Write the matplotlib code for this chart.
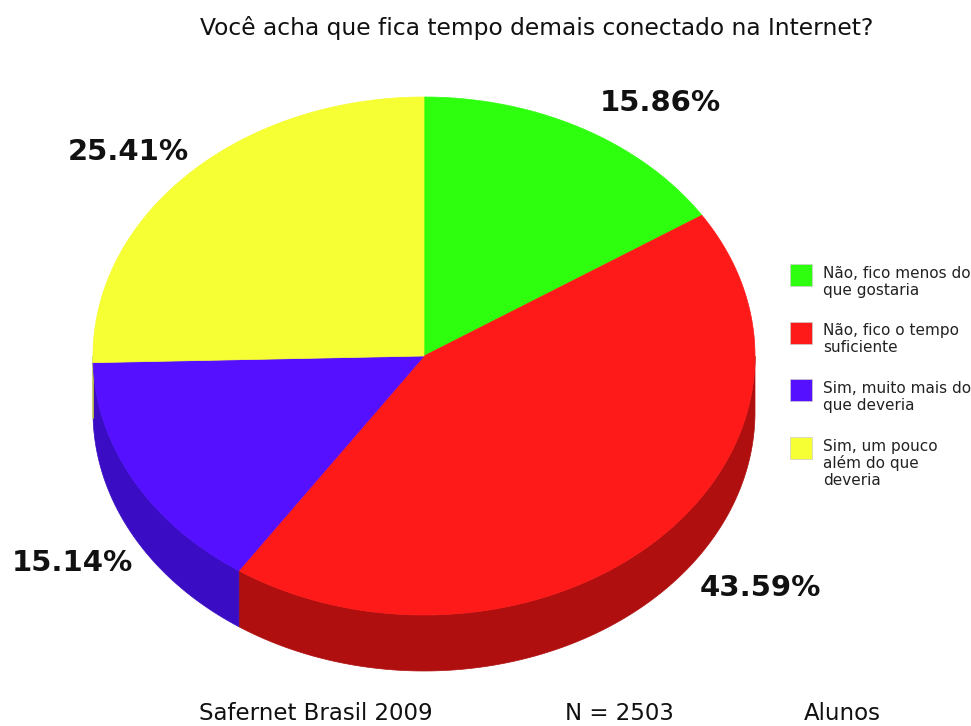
import numpy as np
import matplotlib
matplotlib.use("Agg")
import matplotlib.pyplot as plt
from matplotlib.patches import Polygon, Rectangle

# ---- data ----
categories = ["Não, fico menos do\nque gostaria",
              "Não, fico o tempo\nsuficiente",
              "Sim, muito mais do\nque deveria",
              "Sim, um pouco\nalém do que\ndeveria"]
values = [15.86, 43.59, 15.14, 25.41]
labels = ["15.86%", "43.59%", "15.14%", "25.41%"]
title = "Você acha que fica tempo demais conectado na Internet?"
footer = ["Safernet Brasil 2009", "N = 2503", "Alunos"]

# ---- style ----
top_colors = ["#2dff0e", "#ff1a1a", "#5511ff", "#f5ff33"]
side_colors = ["#1fb00a", "#b00f0f", "#3a0cc4", "#c8d02a"]
label_pos = [(660, 103), (760, 588), (72, 563), (128, 152)]

W, H = 971, 726
fig = plt.figure(figsize=(W / 100, H / 100), dpi=100)
ax = fig.add_axes([0, 0, 1, 1])
ax.set_xlim(0, W)
ax.set_ylim(H, 0)
ax.axis("off")

cx, cy, rx, ry, depth = 424, 356, 331, 259, 56


def pt(t, dy=0.0):
    return cx + rx * np.cos(t), cy - ry * np.sin(t) + dy


fracs = np.array(values) / np.sum(values)
starts = np.pi / 2 - 2 * np.pi * np.concatenate([[0], np.cumsum(fracs)[:-1]])
ends = starts - 2 * np.pi * fracs

# sides (visible lower half: angles in (-pi, 0))
for s, e, c in zip(starts, ends, side_colors):
    for off in (0, 2 * np.pi):
        b1, b2 = max(e + off, -np.pi), min(s + off, 0.0)
        if b2 > b1:
            t = np.linspace(b2, b1, 200)
            x, y = pt(t)
            xb, yb = pt(t[::-1], depth)
            poly = np.column_stack([np.concatenate([x, xb]), np.concatenate([y, yb])])
            ax.add_patch(Polygon(poly, closed=True, facecolor=c, edgecolor=c, lw=0.5))

# tops
for s, e, c in zip(starts, ends, top_colors):
    t = np.linspace(s, e, 300)
    x, y = pt(t)
    poly = np.column_stack([np.concatenate([[cx], x]), np.concatenate([[cy], y])])
    ax.add_patch(Polygon(poly, closed=True, facecolor=c, edgecolor=c, lw=0.5))

for (lx, ly), lab in zip(label_pos, labels):
    ax.text(lx, ly, lab, fontsize=21, fontweight="bold", color="#111111",
            ha="center", va="center")

ax.text(537, 28, title, fontsize=16.8, ha="center", va="center", color="#111111")

# legend
for i, (cat, c) in enumerate(zip(categories, top_colors)):
    y0 = 264 + i * 57.5
    ax.add_patch(Rectangle((790, y0), 22, 22, facecolor=c, edgecolor="#cccccc", lw=0.5))
    ax.text(823, y0 + 2, cat, fontsize=11, va="top", ha="left", color="#222222",
            linespacing=1.15)

for x, txt in zip([316, 619, 842], footer):
    ax.text(x, 725, txt, fontsize=16.5, ha="center", va="bottom", color="#111111")

fig.savefig("out.png", dpi=100)
